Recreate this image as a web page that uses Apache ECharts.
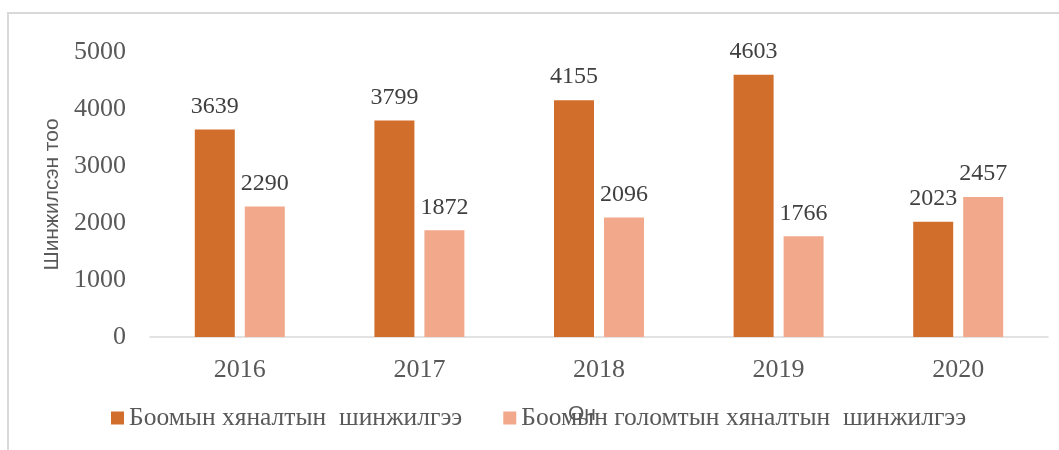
<!DOCTYPE html>
<html>
<head>
<meta charset="utf-8">
<script src="https://cdn.jsdelivr.net/npm/echarts@6/dist/echarts.min.js"></script>
<style>
  html, body { margin: 0; padding: 0; background: #fff; }
  #chart { width: 1059px; height: 450px; }
</style>
</head>
<body>
<div id="chart"></div>
<script>
var years = ['2016', '2017', '2018', '2019', '2020'];
var borderCheck = [3639, 3799, 4155, 4603, 2023];   // Боомын хяналтын шинжилгээ
var focusCheck = [2290, 1872, 2096, 1766, 2457];    // Боомын голомтын хяналтын шинжилгээ
var seriesNames = ['Боомын хяналтын  шинжилгээ', 'Боомын голомтын хяналтын  шинжилгээ'];

var serif = '"Liberation Serif", "DejaVu Serif", serif';
var sans = '"Liberation Sans", Arial, sans-serif';

var chart = echarts.init(document.getElementById('chart'));

var labelStyle = {
    show: true,
    position: 'top',
    distance: 11,
    fontFamily: serif,
    fontSize: 24,
    color: '#404040'
};

var option = {
    animation: false,
    graphic: [{
        type: 'rect',
        shape: { x: 8, y: 13, width: 1200, height: 600 },
        style: { fill: 'none', stroke: '#D9D9D9', lineWidth: 2 },
        silent: true
    }],
    grid: {
        left: 150,
        right: 11,
        top: 52,
        bottom: 113
    },
    legend: {
        data: seriesNames,
        left: 106,
        top: 400,
        itemWidth: 13,
        itemHeight: 13,
        itemGap: 41,
        icon: 'rect',
        textStyle: {
            fontFamily: serif,
            fontSize: 25.5,
            color: '#595959'
        }
    },
    xAxis: {
        type: 'category',
        data: years,
        name: 'Он',
        nameLocation: 'middle',
        nameGap: 67,
        nameTextStyle: { fontFamily: sans, fontSize: 21, color: '#595959', padding: [0, 34, 0, 0] },
        axisLine: { lineStyle: { color: '#D9D9D9', width: 1.5 } },
        axisTick: { show: false },
        axisLabel: {
            margin: 20,
            fontFamily: serif,
            fontSize: 26,
            color: '#595959'
        }
    },
    yAxis: {
        type: 'value',
        min: 0,
        max: 5000,
        interval: 1000,
        name: 'Шинжилсэн тоо',
        nameLocation: 'middle',
        nameGap: 85,
        nameTextStyle: { fontFamily: sans, fontSize: 21, color: '#595959' },
        axisLine: { show: false },
        axisTick: { show: false },
        splitLine: { show: false },
        axisLabel: {
            margin: 24,
            fontFamily: serif,
            fontSize: 26,
            color: '#595959',
            formatter: function (v) { return String(v); }
        }
    },
    series: [
        {
            name: seriesNames[0],
            type: 'bar',
            data: borderCheck,
            barWidth: 40,
            barGap: '25%',
            itemStyle: { color: '#D26E2B' },
            label: labelStyle
        },
        {
            name: seriesNames[1],
            type: 'bar',
            data: focusCheck,
            barWidth: 40,
            itemStyle: { color: '#F2A98B' },
            label: labelStyle
        }
    ]
};

chart.setOption(option);
</script>
</body>
</html>
